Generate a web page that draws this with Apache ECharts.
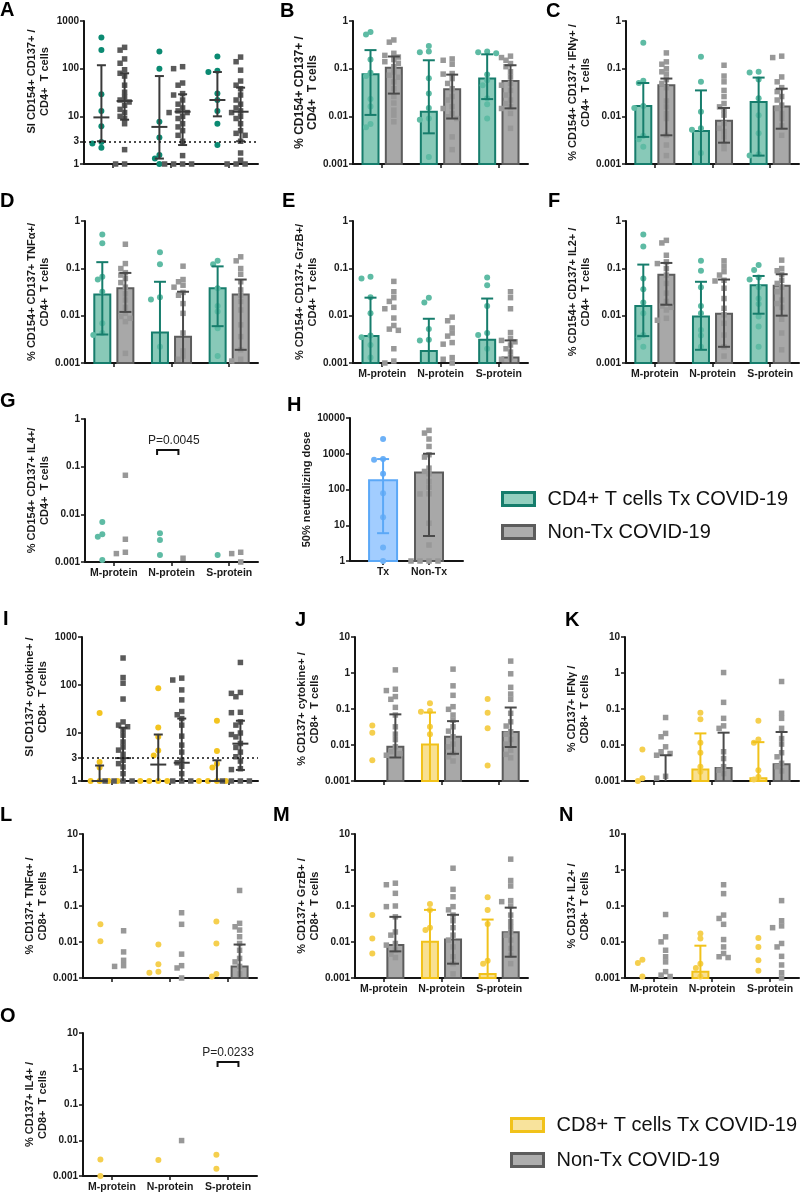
<!DOCTYPE html>
<html><head><meta charset="utf-8">
<script src="https://cdn.jsdelivr.net/npm/echarts@6/dist/echarts.min.js"></script>
<style>html,body{margin:0;padding:0;background:#fff}#c{width:800px;height:1194px}</style>
</head><body><div id="c"></div>
<script>
// ---------- categories / ticks ----------
const PROTEINS = ['M-protein', 'N-protein', 'S-protein'];
const H_GROUPS = ['Tx', 'Non-Tx'];
const SI_TICKS = [1, 3, 10, 100, 1000];

// ---------- A ----------
const A_tx = [[450,245,29,13,6.2,2.9,2.7,2.2],[230,100,7.7,3.6,1.55,1.3,1],[180,90,85,30,22,13,7,2.5]];
const A_ntx = [[280,245,160,130,95,80,70,45,32,25,22,20,17,14,12,10,9,7,2,1,1],[110,100,50,45,30,28,22,18,15,13,12,12,10,9,7,6,5,4,3,1.5,1,1,1,1],[175,140,93,55,45,38,28,22,18,15,13,12,10,9,7,5,4.4,4,3,1.7,1.2,1,1,1]];
const A_txMed = [9.5,6,22];
const A_txErr = [[3,118],[1.3,70],[10,85]];
const A_ntxMed = [21,12.5,12.5];
const A_ntxErr = [[8.5,80],[2.5,29],[3,40]];
// ---------- B ----------
const B_tx = [[0.59,0.52,0.155,0.082,0.07,0.023,0.016,0.0069,0.0059],[0.3,0.23,0.22,0.063,0.03,0.015,0.009,0.0085,0.0014],[0.23,0.22,0.21,0.075,0.057,0.045,0.024,0.018,0.009]];
const B_ntx = [[0.4,0.36,0.21,0.19,0.175,0.155,0.14,0.13,0.11,0.085,0.073,0.066,0.053,0.038,0.026,0.019,0.0135,0.0106,0.0077],[0.16,0.15,0.124,0.079,0.077,0.062,0.049,0.038,0.026,0.022,0.016,0.0146,0.0115,0.0098,0.009,0.0037,0.002],[0.183,0.171,0.15,0.128,0.11,0.086,0.067,0.049,0.045,0.035,0.028,0.022,0.0186,0.0158,0.0146,0.0115,0.0056]];
const B_txMed = [0.076,0.0125,0.062];
const B_txErr = [[0.0107,0.245],[0.0044,0.15],[0.023,0.2]];
const B_ntxMed = [0.105,0.037,0.055];
const B_ntxErr = [[0.03,0.18],[0.009,0.075],[0.0147,0.118]];
// ---------- C ----------
const C_tx = [[0.35,0.056,0.05,0.0164,0.015,0.0039,0.0033,0.0023],[0.177,0.053,0.0125,0.0056,0.0052,0.0017],[0.086,0.083,0.059,0.024,0.0106,0.0044,0.0016,0.0015]];
const C_ntx = [[0.214,0.139,0.124,0.1,0.086,0.077,0.059,0.049,0.04,0.021,0.0158,0.0115,0.009,0.004,0.0025,0.0015],[0.118,0.07,0.053,0.035,0.026,0.0186,0.0158,0.0135,0.0106,0.0071,0.0056,0.0048,0.0037,0.0027,0.0021],[0.183,0.171,0.067,0.053,0.04,0.033,0.026,0.022,0.0172,0.0146,0.0115,0.009,0.0063,0.004]];
const C_txMed = [0.0164,0.0049,0.02];
const C_txErr = [[0.0037,0.05],[0.001,0.035],[0.0015,0.065]];
const C_ntxMed = [0.045,0.0081,0.016];
const C_ntxErr = [[0.004,0.062],[0.0028,0.015],[0.0055,0.038]];
// ---------- D ----------
const D_tx = [[0.52,0.34,0.066,0.058,0.032,0.0069,0.0043,0.0039],[0.22,0.122,0.0244,0.022,0.0022],[0.144,0.122,0.038,0.016,0.0122,0.0054,0.0014]];
const D_ntx = [[0.323,0.126,0.099,0.081,0.072,0.061,0.05,0.04,0.029,0.0214,0.015,0.0112,0.0096,0.0088,0.0075,0.0016],[0.111,0.058,0.052,0.044,0.04,0.031,0.027,0.018,0.0112,0.0043,0.0018,0.0014,0.0012],[0.175,0.144,0.099,0.075,0.052,0.035,0.027,0.02,0.0132,0.0064,0.0036,0.0019,0.0012,0.0011]];
const D_txMed = [0.028,0.0044,0.038];
const D_txErr = [[0.004,0.135],[0.001,0.052],[0.006,0.11]];
const D_ntxMed = [0.038,0.0036,0.028];
const D_ntxErr = [[0.012,0.08],[0.001,0.032],[0.0019,0.058]];
// ---------- E ----------
const E_tx = [[0.066,0.061,0.0244,0.0112,0.0038,0.0035,0.0024,0.0013],[0.024,0.019,0.0052,0.0031,0.003],[0.064,0.044,0.016,0.0043,0.0039,0.002]];
const E_ntx = [[0.053,0.032,0.024,0.02,0.015,0.014,0.0089,0.0062,0.0052,0.0049,0.002,0.0011,0.001],[0.0093,0.0078,0.0055,0.0043,0.0037,0.0027,0.0025,0.0013,0.0012,0.001],[0.032,0.024,0.014,0.0044,0.0033,0.003,0.0028,0.0024,0.002,0.0017,0.0013,0.0012]];
const E_txMed = [0.0037,0.0018,0.0031];
const E_txErr = [[0.001,0.024],[0.001,0.0086],[0.001,0.023]];
const E_ntxMed = [null,null,0.0013];
const E_ntxErr = [null,null,[0.001,0.003]];
// ---------- F ----------
const F_tx = [[0.52,0.29,0.061,0.036,0.019,0.0112,0.0039,0.0035,0.0022],[0.144,0.089,0.04,0.016,0.0112,0.005,0.0038,0.0022],[0.117,0.092,0.064,0.058,0.04,0.023,0.0177,0.0096,0.0059,0.0022]];
const F_ntx = [[0.39,0.344,0.189,0.137,0.126,0.099,0.072,0.048,0.03,0.02,0.016,0.015,0.0132,0.0088,0.008],[0.144,0.111,0.085,0.072,0.056,0.054,0.038,0.023,0.0143,0.0104,0.0069,0.0039,0.0022,0.0014],[0.149,0.099,0.089,0.075,0.056,0.048,0.04,0.032,0.0214,0.018,0.015,0.0084,0.0043,0.0019]];
const F_txMed = [0.016,0.0096,0.044];
const F_txErr = [[0.0037,0.12],[0.0019,0.052],[0.011,0.069]];
const F_ntxMed = [0.073,0.011,0.043];
const F_ntxErr = [[0.017,0.13],[0.0022,0.058],[0.01,0.075]];
// ---------- G ----------
const G_tx = [[0.0069,0.0038,0.0034,0.0011],[0.004,0.0029,0.0014],[0.0014]];
const G_ntx = [[0.066,0.003,0.0016,0.0015],[0.0012],[0.0016,0.0015,0.001]];
const G_pLabel = 'P=0.0045';
const G_pLevel = 0.224;
// ---------- H ----------
const H_tx = [[2580,708,679,275,79,16.7,2.4,1]];
const H_ntx = [[4510,3790,2580,1600,940,807,396,320,275,168,116,76,75,11.4,2.8,1,1,1,1]];
const H_txMed = [180];
const H_txErr = [[6,710]];
const H_ntxMed = [300];
const H_ntxErr = [[5,1000]];
// ---------- I ----------
const I_tx = [[26,2.5,1.9,1,1,1,1,1],[86,13,8.4,4.3,3.4,1,1,1,1],[18,4.2,2.3,1.9,1,1,1,1]];
const I_ntx = [[365,143,109,51,17,14.6,13.5,11.5,9,6.5,5.1,4.4,3.6,2.7,2.3,1.96,1.42,1,1,1,1],[139,127,79,49,28,24,20,14.6,8.6,5.6,4,2.7,2.4,2.03,1.42,1,1,1],[295,70,67,57,27,26.5,17,14.6,10,9.3,8.3,6.05,5,4,3.2,2.6,1.8,1.73,1,1,1,1]];
const I_txMed = [1,2.2,1];
const I_txErr = [[1,2.1],[1,9.3],[1,2.7]];
const I_ntxMed = [3,2.4,6];
const I_ntxErr = [[1,12.9],[1,20],[1.7,18]];
// ---------- J ----------
const J_tx = [[0.035,0.022,0.0038],[0.144,0.088,0.084,0.032,0.02],[0.19,0.079,0.029,0.0027]];
const J_ntx = [[1.22,0.354,0.325,0.221,0.186,0.111,0.068,0.032,0.02,0.0142,0.0089,0.0065,0.0058,0.0052],[1.28,0.44,0.24,0.116,0.098,0.068,0.049,0.032,0.0243,0.0169,0.0106,0.0089,0.0058,0.0047,0.0036],[2.14,0.95,0.4,0.26,0.186,0.076,0.044,0.0336,0.0233,0.02,0.0142,0.0106,0.0072,0.0055,0.0044]];
const J_txMed = [null,0.0103,null];
const J_txErr = [null,[0.001,0.08],null];
const J_ntxMed = [0.0089,0.017,0.023];
const J_ntxErr = [[0.0045,0.071],[0.0057,0.046],[0.0088,0.11]];
// ---------- K ----------
const K_tx = [[0.0075,0.0012,0.001],[0.079,0.0515,0.0115,0.0061,0.0025,0.0018],[0.047,0.0142,0.0115,0.002,0.0013,0.0011]];
const K_ntx = [[0.058,0.021,0.0169,0.0089,0.0065,0.0058,0.0052,0.00135,0.0012],[1.03,0.153,0.055,0.034,0.029,0.0065,0.0042,0.0025,0.002,0.0016],[0.58,0.076,0.055,0.029,0.0151,0.0106,0.0061,0.0047,0.0031,0.0025,0.0019]];
const K_txMed = [null,0.0021,0.0012];
const K_txErr = [null,[0.001,0.021],[0.001,0.012]];
const K_ntxMed = [null,0.0023,0.0029];
const K_ntxErr = [[0.001,0.0052],[0.001,0.022],[0.001,0.023]];
// ---------- L ----------
const L_tx = [[0.031,0.0105],[0.0085,0.0024,0.0015,0.0014],[0.037,0.0091,0.0013,0.0011]];
const L_ntx = [[0.0205,0.0053,0.0031,0.0022,0.0021],[0.065,0.031,0.0046,0.0022,0.0019,0.001],[0.27,0.033,0.0265,0.0215,0.014,0.0091,0.0059,0.0035,0.0028,0.0021,0.0013]];
const L_ntxMed = [null,null,0.0021];
const L_ntxErr = [null,null,[0.001,0.0085]];
// ---------- M ----------
const M_tx = [[0.056,0.0125,0.0048],[0.114,0.078,0.025,0.0215],[0.175,0.078,0.0315,0.003,0.0025]];
const M_ntx = [[0.43,0.39,0.225,0.1,0.096,0.05,0.019,0.0155,0.0091,0.0082,0.006,0.0046,0.0037],[1.12,0.29,0.18,0.096,0.078,0.056,0.039,0.025,0.0155,0.0113,0.0073,0.0039,0.0025,0.0013],[2.0,0.51,0.36,0.141,0.132,0.1,0.056,0.037,0.0265,0.019,0.0155,0.0113,0.0066,0.0043,0.0025]];
const M_txMed = [null,0.0102,0.0013];
const M_txErr = [null,[0.001,0.078],[0.001,0.042]];
const M_ntxMed = [0.0082,0.0118,0.0187];
const M_ntxErr = [[0.0055,0.05],[0.0025,0.057],[0.0039,0.09]];
// ---------- N ----------
const N_tx = [[0.0032,0.0026,0.0011],[0.0173,0.0125,0.0025,0.0019,0.0011],[0.013,0.0073,0.0031,0.0016]];
const N_ntx = [[0.058,0.0139,0.0101,0.0059,0.0039,0.0028,0.0015,0.0012,0.0011],[0.39,0.22,0.056,0.045,0.031,0.0117,0.0073,0.0048,0.0039,0.0037],[0.141,0.039,0.028,0.025,0.0091,0.0073,0.004,0.0023,0.0014,0.001]];
const N_txMed = [null,0.0015,null];
const N_txErr = [null,[0.001,0.0079],null];
// ---------- O ----------
const O_tx = [[0.0029,0.001],[0.0028],[0.0039,0.0016]];
const O_ntx = [[],[0.0098],[]];
const O_pLabel = 'P=0.0233';
const O_pLevel = 1.55;

// ---------- styles ----------
const FONT = 'Liberation Sans, Arial, Helvetica, sans-serif';
const TEAL = {name:'CD4+ T cells Tx COVID-19', fill:'#88c9b8', stroke:'#167d6c', pt:'#5ebba4', err:'#167d6c'};
const TEAL_DOT = Object.assign({}, TEAL, {pt:'#0b8a72', err:'#3a3a3a'});
const GRAY = {name:'Non-Tx COVID-19', fill:'#a8a8a8', stroke:'#5c5c5c', pt:'#989898', err:'#4a4a4a'};
const GRAY_DOT = Object.assign({}, GRAY, {pt:'#5a5a5a', err:'#3a3a3a'});
const GOLD = {name:'CD8+ T cells Tx COVID-19', fill:'#f8e092', stroke:'#f1c21a', pt:'#f5cf4e', err:'#f1c21a'};
const GOLD_DOT = Object.assign({}, GOLD, {pt:'#f3c41f', err:'#3a3a3a'});
const BLUE = {name:'Tx (neutralizing)', fill:'#a2cdff', stroke:'#5ba8f7', pt:'#6db1f7', err:'#5ba8f7'};

const CD4N = '\nCD4+  T cells', CD8N = '\nCD8+  T cells';
const PANELS = [
 {id:'A', lx:0, ly:0, x:84, y:21, w:174, h:143, ymin:1, ymax:1000, dot:true, cTx:TEAL_DOT, cN:GRAY_DOT, yname:'SI CD154+ CD137+ /'+CD4N, nameShift:11, ref:3, ticks:SI_TICKS, tx:A_tx, ntx:A_ntx, txMed:A_txMed, txErr:A_txErr, ntxMed:A_ntxMed, ntxErr:A_ntxErr},
 {id:'B', lx:280, ly:1, x:353, y:21, w:175, h:143, ymin:0.001, ymax:1, cTx:TEAL, cN:GRAY, yname:'% CD154+ CD137+ /'+CD4N, nameSize:12, tx:B_tx, ntx:B_ntx, txMed:B_txMed, txErr:B_txErr, ntxMed:B_ntxMed, ntxErr:B_ntxErr},
 {id:'C', lx:546, ly:1, x:626, y:21, w:173, h:143, ymin:0.001, ymax:1, cTx:TEAL, cN:GRAY, yname:'% CD154+ CD137+ IFNγ+ /'+CD4N, tx:C_tx, ntx:C_ntx, txMed:C_txMed, txErr:C_txErr, ntxMed:C_ntxMed, ntxErr:C_ntxErr},
 {id:'D', lx:0, ly:191, x:85, y:221, w:173, h:142, ymin:0.001, ymax:1, cTx:TEAL, cN:GRAY, yname:'% CD154+ CD137+ TNFα+/'+CD4N, tx:D_tx, ntx:D_ntx, txMed:D_txMed, txErr:D_txErr, ntxMed:D_ntxMed, ntxErr:D_ntxErr},
 {id:'E', lx:282, ly:191, x:353, y:221, w:175, h:142, ymin:0.001, ymax:1, cTx:TEAL, cN:GRAY, labels:PROTEINS, yname:'% CD154+ CD137+ GrzB+/'+CD4N, tx:E_tx, ntx:E_ntx, txMed:E_txMed, txErr:E_txErr, ntxMed:E_ntxMed, ntxErr:E_ntxErr},
 {id:'F', lx:548, ly:191, x:626, y:221, w:173, h:142, ymin:0.001, ymax:1, cTx:TEAL, cN:GRAY, labels:PROTEINS, yname:'% CD154+ CD137+ IL2+ /'+CD4N, tx:F_tx, ntx:F_ntx, txMed:F_txMed, txErr:F_txErr, ntxMed:F_ntxMed, ntxErr:F_ntxErr},
 {id:'G', lx:0, ly:391, x:85, y:419, w:173, h:143, ymin:0.001, ymax:1, cTx:TEAL, cN:GRAY, labels:PROTEINS, yname:'% CD154+ CD137+ IL4+/'+CD4N, tx:G_tx, ntx:G_ntx, pval:{label:G_pLabel, level:G_pLevel, at:1, dl:-0.25, dr:0.12, dx:6}},
 {id:'H', lx:287, ly:395, x:350, y:418, w:113, h:143, ymin:1, ymax:10000, xmin:-0.72, xmax:1.74, offs:[0,1], barW:28, cTx:BLUE, cN:GRAY, labels:H_GROUPS, cats:[0,1], yname:'50% neutralizing dose', nameGap:36, tx:H_tx, ntx:H_ntx, txMed:H_txMed, txErr:H_txErr, ntxMed:H_ntxMed, ntxErr:H_ntxErr},
 {id:'I', lx:3, ly:609, x:82, y:637, w:176, h:144, ymin:1, ymax:1000, dot:true, cTx:GOLD_DOT, cN:GRAY_DOT, yname:'SI CD137+ cytokine+ /'+CD8N, nameShift:12, nameSize:11.5, ref:3, ticks:SI_TICKS, tx:I_tx, ntx:I_ntx, txMed:I_txMed, txErr:I_txErr, ntxMed:I_ntxMed, ntxErr:I_ntxErr},
 {id:'J', lx:295, ly:610, x:355, y:637, w:173, h:144, ymin:0.001, ymax:10, cTx:GOLD, cN:GRAY, yname:'% CD137+ cytokine+ /'+CD8N, tx:J_tx, ntx:J_ntx, txMed:J_txMed, txErr:J_txErr, ntxMed:J_ntxMed, ntxErr:J_ntxErr},
 {id:'K', lx:565, ly:610, x:625, y:637, w:174, h:144, ymin:0.001, ymax:10, cTx:GOLD, cN:GRAY, yname:'% CD137+ IFNγ /'+CD8N, tx:K_tx, ntx:K_ntx, txMed:K_txMed, txErr:K_txErr, ntxMed:K_ntxMed, ntxErr:K_ntxErr},
 {id:'L', lx:0, ly:805, x:83, y:834, w:174, h:144, ymin:0.001, ymax:10, cTx:GOLD, cN:GRAY, yname:'% CD137+ TNFα+ /'+CD8N, tx:L_tx, ntx:L_ntx, ntxMed:L_ntxMed, ntxErr:L_ntxErr},
 {id:'M', lx:273, ly:805, x:355, y:834, w:173, h:144, ymin:0.001, ymax:10, cTx:GOLD, cN:GRAY, labels:PROTEINS, yname:'% CD137+ GrzB+ /'+CD8N, tx:M_tx, ntx:M_ntx, txMed:M_txMed, txErr:M_txErr, ntxMed:M_ntxMed, ntxErr:M_ntxErr},
 {id:'N', lx:559, ly:805, x:625, y:834, w:174, h:144, ymin:0.001, ymax:10, cTx:GOLD, cN:GRAY, labels:PROTEINS, yname:'% CD137+ IL2+ /'+CD8N, tx:N_tx, ntx:N_ntx, txMed:N_txMed, txErr:N_txErr},
 {id:'O', lx:0, ly:1006, x:83, y:1033, w:174, h:143, ymin:0.001, ymax:10, cTx:GOLD, cN:GRAY, labels:PROTEINS, yname:'% CD137+ IL4+ /'+CD8N, tx:O_tx, ntx:O_ntx, pval:{label:O_pLabel, level:O_pLevel, at:2, dl:-0.18, dr:0.18, dx:0}}
];

function fmtTick(v){
  const r = +(+v).toPrecision(3);
  if (r >= 1) return String(Math.round(r));
  return r.toFixed(Math.round(-Math.log10(r)));
}

// deterministic beeswarm spread (pixel-based collision avoidance)
function swarm(vals, center, p){
  const pxX = p.w / (p.xmax - p.xmin);
  const pxDec = p.h / Math.log10(p.ymax / p.ymin);
  const STEP = 4.5, DIST = 5;
  const cands = [0,-1,1,-2,2,-3,3,-4,4];
  const placed = [], out = [];
  const order = vals.map((v,i)=>i).sort((a,b)=>vals[b]-vals[a]);
  for (const i of order){
    const v = Math.max(vals[i], p.ymin);
    const y = Math.log10(v) * pxDec;
    let pick = cands[cands.length-1];
    for (const c of cands){
      const xo = c*STEP;
      if (placed.every(q => Math.hypot(q[0]-xo, q[1]-y) >= DIST)) { pick = c; break; }
    }
    placed.push([pick*STEP, y]);
    out.push([center + pick*STEP/pxX, v]);
  }
  return out;
}

const grid = [], xAxis = [], yAxis = [], series = [], title = [];
const AX = '#151515';

PANELS.forEach((p, k) => {
  p.xmin = p.xmin ?? -0.5; p.xmax = p.xmax ?? 2.5;
  const offs = p.offs || [-0.2, 0.2];
  const barW = p.barW || 16;
  const cats = p.cats || [0,1,2];
  title.push({text:p.id, left:p.lx, top:p.ly, padding:0, textStyle:{fontSize:20, fontWeight:'bold', color:'#000', fontFamily:FONT}});
  grid.push({left:p.x, top:p.y, width:p.w, height:p.h});
  xAxis.push({type:'value', gridIndex:k, min:p.xmin, max:p.xmax,
    axisLine:{show:true, onZero:false, lineStyle:{color:AX, width:2}},
    axisTick:{show:true, customValues:cats, length:4, lineStyle:{color:AX, width:1.5}},
    axisLabel:{show:!!p.labels, customValues:cats, margin:6, formatter:v => (p.labels||[])[Math.round(v)] || '', fontSize:10.5, fontWeight:'bold', color:'#1a1a1a', fontFamily:FONT},
    splitLine:{show:false}});
  const sh = p.nameShift || 0;
  const ya = {type:'log', logBase:10, gridIndex:k, min:p.ymin, max:p.ymax,
    axisLine:{show:true, onZero:false, lineStyle:{color:AX, width:2}},
    axisTick:{show:true, length:4, lineStyle:{color:AX, width:1.5}},
    axisLabel:{margin:5, formatter:fmtTick, fontSize:10, fontWeight:'bold', color:'#1a1a1a', fontFamily:FONT},
    splitLine:{show:false}, minorTick:{show:false},
    name:p.yname, nameLocation:'middle', nameGap:p.nameGap || 33,
    nameTextStyle:{fontSize:p.nameSize || 11, fontWeight:'bold', lineHeight:13, color:'#1a1a1a', fontFamily:FONT, align:'center', padding:[0,0,0,2*sh]}};
  if (p.ticks){ ya.axisLabel.customValues = p.ticks; ya.axisTick.customValues = p.ticks; }
  yAxis.push(ya);

  const groups = [
    {vals:p.tx, med:p.txMed||[], err:p.txErr||[], col:p.cTx, off:offs[0], sym:'circle', size:6},
    {vals:p.ntx, med:p.ntxMed||[], err:p.ntxErr||[], col:p.cN, off:offs[1], sym:'rect', size:5.5}
  ];
  groups.forEach((g, gi) => {
    const col = g.col;
    if (!p.dot){
      const bdata = [];
      g.med.forEach((m,i)=>{ if (m != null) bdata.push([i + g.off, m]); });
      if (bdata.length) series.push({type:'custom', name:col.name, xAxisIndex:k, yAxisIndex:k, z:2, silent:true, data:bdata,
        encode:{x:0, y:1},
        renderItem:(params, api) => {
          const x = api.value(0), m = api.value(1);
          const t = api.coord([x, m]), b = api.coord([x, p.ymin]);
          return {type:'rect', shape:{x:t[0]-barW/2, y:t[1], width:barW, height:Math.max(0,b[1]-t[1])},
            style:{fill:col.fill, stroke:col.stroke, lineWidth:2}};
        }});
    }
    const pts = [];
    g.vals.forEach((arr,i)=>{ swarm(arr, i + g.off, p).forEach(q=>pts.push(q)); });
    const sc = {type:'scatter', name:col.name, xAxisIndex:k, yAxisIndex:k, z:3, silent:true, data:pts,
      symbol:g.sym, symbolSize:g.size, itemStyle:{color:col.pt, opacity:1}};
    if (p.ref && gi === 1) sc.markLine = {silent:true, symbol:'none', label:{show:false},
      lineStyle:{type:[2,3], color:'#111', width:1.5}, data:[{yAxis:p.ref}]};
    series.push(sc);
    const edata = [];
    g.err.forEach((e,i)=>{ if (e) edata.push([i + g.off, e[0], e[1], p.dot ? g.med[i] : 0]); });
    if (edata.length) series.push({type:'custom', name:col.name, xAxisIndex:k, yAxisIndex:k, z:4, silent:true, data:edata,
      encode:{x:0, y:[1,2]},
      renderItem:(params, api) => {
        const x = api.value(0), lo = api.value(1), hi = api.value(2), md = api.value(3);
        const a = api.coord([x, hi]), b = api.coord([x, lo]);
        const cap = (p.dot ? 9 : 12)/2;
        const st = {stroke:col.err, lineWidth:2};
        const ch = [
          {type:'line', shape:{x1:a[0], y1:a[1], x2:b[0], y2:b[1]}, style:st},
          {type:'line', shape:{x1:a[0]-cap, y1:a[1], x2:a[0]+cap, y2:a[1]}, style:st}
        ];
        if (lo > p.ymin) ch.push({type:'line', shape:{x1:b[0]-cap, y1:b[1], x2:b[0]+cap, y2:b[1]}, style:st});
        if (p.dot && md){
          const m = api.coord([x, md]);
          ch.push({type:'line', shape:{x1:m[0]-8, y1:m[1], x2:m[0]+8, y2:m[1]}, style:st});
        }
        return {type:'group', children:ch};
      }});
  });
  if (p.pval){
    const pv = p.pval;
    series.push({type:'custom', name:'significance', xAxisIndex:k, yAxisIndex:k, z:5, silent:true,
      data:[[pv.at, pv.level]], encode:{x:0, y:1},
      renderItem:(params, api) => {
        const x = api.value(0), v = api.value(1);
        const l = api.coord([x + pv.dl, v]), r = api.coord([x + pv.dr, v]);
        return {type:'group', children:[
          {type:'polyline', shape:{points:[[l[0], l[1]+5],[l[0], l[1]],[r[0], r[1]],[r[0], r[1]+5]]}, style:{stroke:'#111', lineWidth:2, fill:null}},
          {type:'text', style:{text:pv.label, x:(l[0]+r[0])/2 + pv.dx, y:l[1]-3, align:'center', verticalAlign:'bottom', fontSize:12, fill:'#222', fontFamily:FONT}}
        ]};
      }});
  }
});

const legendBase = {orient:'vertical', padding:0, itemWidth:32, itemHeight:13, selectedMode:false,
  textStyle:{fontSize:20, color:'#111', fontFamily:FONT, padding:[0,0,0,8]}};
const legend = [
  Object.assign({}, legendBase, {left:501, top:489, itemGap:13, data:[
    {name:TEAL.name, icon:'rect', itemStyle:{color:'#93cfbf', borderColor:'#167d6c', borderWidth:3}},
    {name:GRAY.name, icon:'rect', itemStyle:{color:'#adadad', borderColor:'#5c5c5c', borderWidth:3}}]}),
  Object.assign({}, legendBase, {left:510, top:1115, itemGap:15, data:[
    {name:GOLD.name, icon:'rect', itemStyle:{color:'#f8e39c', borderColor:'#f1c21a', borderWidth:3}},
    {name:GRAY.name, icon:'rect', itemStyle:{color:'#adadad', borderColor:'#5c5c5c', borderWidth:3}}]})
];

const chart = echarts.init(document.getElementById('c'), null, {renderer:'canvas'});
chart.setOption({animation:false, backgroundColor:'#fff', textStyle:{fontFamily:FONT},
  title, grid, xAxis, yAxis, series, legend});
</script>
</body></html>
